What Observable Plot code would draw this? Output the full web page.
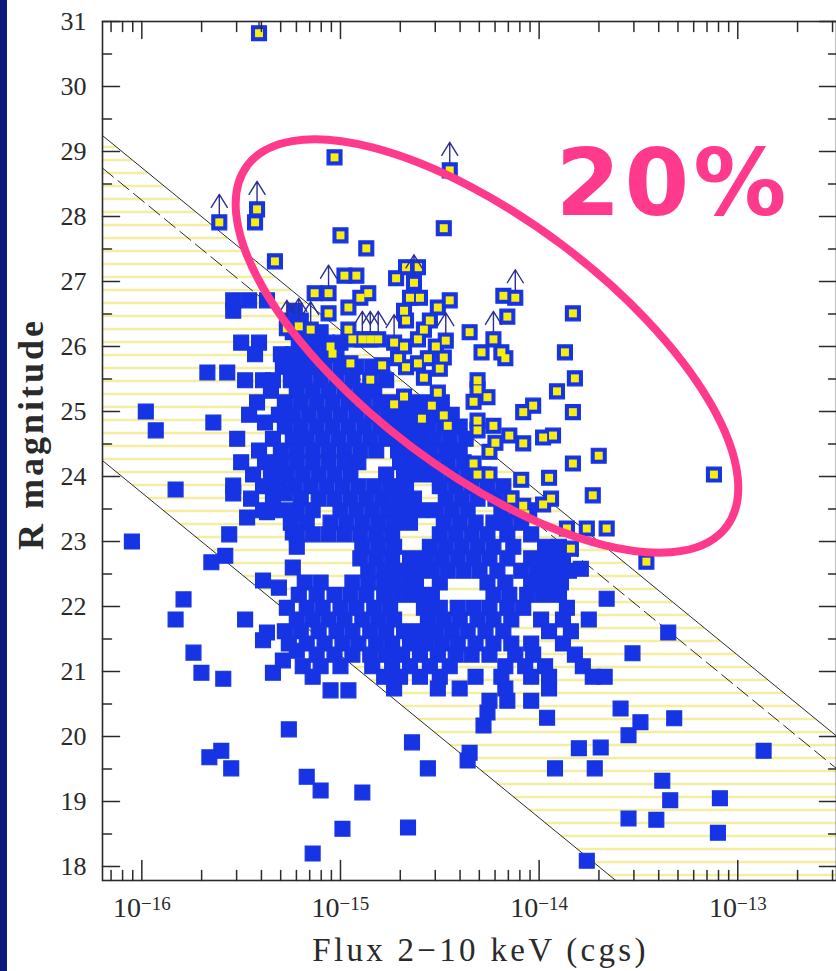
<!DOCTYPE html>
<html>
<head>
<meta charset="utf-8">
<script src="https://cdn.jsdelivr.net/npm/d3@7"></script>
<script src="https://cdn.jsdelivr.net/npm/@observablehq/plot@0.6"></script>
<style>
  html, body { margin: 0; padding: 0; background: #ffffff; }
  #chart { width: 836px; height: 971px; overflow: hidden; }
</style>
</head>
<body>
<div id="chart"></div>
<script>
// R magnitude versus 2–10 keV flux of hard X-ray sources.
// Fluxes are stored as log10(F / erg cm^-2 s^-1).

// Sources with an optical counterpart: rows of equal R, then log flux values.
const detectedRows = [
  [26.71, [-15.54, -15.46, -15.37]],
  [26.55, [-15.54, -15.23]],
  [26.40, [-15.26, -15.20]],
  [26.22, [-15.24, -15.18, -15.10]],
  [26.06, [-15.50, -15.41, -15.21, -15.14, -15.07, -15.00]],
  [25.88, [-15.43, -15.30, -15.24, -15.17, -15.10, -15.02]],
  [25.69, [-15.29, -15.22, -15.15, -15.08, -15.00, -14.92, -14.84]],
  [25.60, [-15.67, -15.57]],
  [25.48, [-15.48, -15.39, -15.34, -15.25, -15.18, -15.10, -15.02, -14.94, -14.77]],
  [25.32, [-15.35, -15.22, -15.14, -15.06, -14.98, -14.90, -14.83]],
  [25.14, [-15.42, -15.28, -15.20, -15.12, -15.04, -14.96, -14.88, -14.80, -14.72, -14.65, -14.57, -14.49]],
  [24.95, [-15.46, -15.31, -15.24, -15.16, -15.08, -15.00, -14.92, -14.84, -14.76, -14.68, -14.60, -14.52, -14.44]],
  [24.83, [-15.64, -15.38]],
  [24.77, [-15.28, -15.20, -15.12, -15.04, -14.96, -14.88, -14.80, -14.72, -14.64, -14.56, -14.48, -14.40]],
  [24.58, [-15.52, -15.34, -15.24, -15.17, -15.09, -15.01, -14.93, -14.85, -14.77, -14.69, -14.61, -14.53, -14.45, -14.37]],
  [24.40, [-15.41, -15.30, -15.22, -15.14, -15.06, -14.98, -14.90, -14.82, -14.71, -14.63, -14.55, -14.47, -14.40]],
  [24.22, [-15.50, -15.38, -15.30, -15.22, -15.14, -15.06, -14.98, -14.91, -14.70, -14.62, -14.54, -14.46, -14.38]],
  [24.03, [-15.44, -15.35, -15.27, -15.19, -15.11, -15.03, -14.95, -14.77, -14.68, -14.60, -14.52, -14.44, -14.36, -14.28]],
  [23.85, [-15.39, -15.31, -15.23, -15.15, -15.07, -14.99, -14.91, -14.83, -14.75, -14.67, -14.50, -14.42, -14.34, -14.26, -14.18]],
  [23.66, [-15.45, -15.34, -15.20, -15.11, -15.03, -14.95, -14.87, -14.79, -14.71, -14.63, -14.47, -14.39, -14.31, -14.22, -14.14]],
  [23.48, [-15.39, -15.30, -15.22, -15.14, -15.00, -14.92, -14.84, -14.76, -14.68, -14.60, -14.52, -14.44, -14.36, -14.19, -14.11, -14.05]],
  [23.29, [-15.25, -15.17, -15.05, -14.97, -14.89, -14.81, -14.73, -14.65, -14.48, -14.40, -14.32, -14.23, -14.17, -14.09]],
  [23.11, [-15.22, -15.14, -15.06, -14.98, -14.90, -14.82, -14.74, -14.50, -14.42, -14.34, -14.26, -14.16, -14.04]],
  [22.92, [-15.22, -14.89, -14.81, -14.73, -14.55, -14.47, -14.39, -14.31, -14.23, -14.13, -13.97, -13.90]],
  [22.74, [-14.90, -14.82, -14.74, -14.65, -14.57, -14.49, -14.41, -14.33, -14.25, -14.16, -14.04, -13.96, -13.88]],
  [22.55, [-14.86, -14.78, -14.70, -14.62, -14.54, -14.46, -14.38, -14.30, -14.21, -14.09, -14.01, -13.93, -13.85]],
  [22.37, [-15.18, -15.10, -14.94, -14.86, -14.78, -14.70, -14.62, -14.50, -14.26, -14.17, -14.04, -13.96, -13.89]],
  [22.18, [-15.21, -15.12, -15.03, -14.95, -14.87, -14.78, -14.70, -14.62, -14.54, -14.23, -14.15, -14.06, -13.98, -13.90]],
  [21.98, [-15.17, -15.09, -15.00, -14.92, -14.83, -14.75, -14.58, -14.50, -14.41, -14.33, -14.25, -14.16, -14.08, -13.86]],
  [21.80, [-15.22, -15.14, -15.06, -14.98, -14.89, -14.81, -14.73, -14.56, -14.48, -14.40, -14.31, -14.23, -14.14, -13.99, -13.88, -13.75]],
  [21.62, [-15.28, -15.20, -15.11, -15.02, -14.94, -14.85, -14.77, -14.68, -14.60, -14.52, -14.44, -14.36, -14.27, -14.18, -13.95, -13.84]],
  [21.43, [-15.26, -15.17, -15.08, -14.99, -14.91, -14.82, -14.74, -14.65, -14.57, -14.49, -14.41, -14.32, -14.23, -14.14, -14.04, -13.88]],
  [21.26, [-15.12, -15.03, -14.94, -14.85, -14.77, -14.69, -14.60, -14.51, -14.42, -14.34, -14.25, -14.12, -14.03, -13.82]],
  [21.08, [-15.19, -15.10, -15.00, -14.84, -14.74, -14.65, -14.55, -14.45, -14.17, -14.07, -13.97, -13.78]],
  [20.92, [-15.14, -14.78, -14.70, -14.60, -14.50, -14.32, -14.19, -14.04, -13.95, -13.73, -13.67]],
  [20.74, [-14.73, -14.51, -14.40, -14.17, -13.95]],
  [20.55, [-14.25, -14.16, -14.04]]
];

// Scattered sources with an optical counterpart: [log flux, R].
const detectedScattered = [
  [-16.05, 23.00], [-15.98, 25.00], [-15.93, 24.71], [-15.83, 23.80], [-15.79, 22.11],
  [-15.83, 21.80], [-15.74, 21.29], [-15.70, 20.98], [-15.59, 20.89], [-15.48, 21.80],
  [-15.65, 22.68], [-15.58, 22.78], [-15.56, 23.11], [-15.66, 19.68], [-15.60, 19.78],
  [-15.55, 19.51], [-15.26, 20.11], [-15.39, 22.40], [-15.31, 22.29], [-15.37, 21.60],
  [-15.39, 21.48], [-15.34, 20.98], [-15.29, 21.17], [-15.24, 22.60], [-15.27, 21.98],
  [-15.22, 21.32], [-15.24, 23.14], [-15.47, 23.37], [-15.37, 23.45], [-15.32, 23.83],
  [-15.28, 23.74], [-15.24, 23.43], [-15.54, 23.86], [-15.54, 23.74], [-15.17, 19.38],
  [-15.10, 19.17], [-14.99, 18.58], [-15.14, 18.20], [-14.89, 19.14], [-14.66, 18.60],
  [-15.05, 20.71], [-14.96, 20.71], [-14.64, 19.91], [-14.56, 19.51], [-14.36, 19.63],
  [-14.35, 19.75], [-14.26, 20.37], [-14.28, 20.17], [-13.92, 19.51], [-13.76, 18.09],
  [-13.96, 20.29], [-13.80, 19.82], [-13.69, 19.83], [-13.72, 19.51], [-13.55, 18.74],
  [-13.41, 18.72], [-13.38, 19.32], [-13.34, 19.02], [-13.09, 19.05], [-13.10, 18.52],
  [-12.87, 19.78], [-13.59, 20.43], [-13.55, 20.02], [-13.49, 20.22], [-13.32, 20.28],
  [-13.53, 21.28], [-13.66, 22.12], [-13.35, 21.60], [-13.79, 22.58]
];

// Optically faint sources: [log flux, R, 1 if R is a lower limit].
const faint = [
  [-15.41, 30.82, 1], [-15.03, 28.91, 0], [-14.45, 28.71, 1], [-15.61, 27.91, 1], [-15.43, 27.91, 0],
  [-15.42, 28.11, 1], [-15.33, 27.31, 0], [-15.00, 27.71, 0], [-14.87, 27.51, 0], [-14.48, 27.82, 0],
  [-14.92, 27.09, 0], [-14.98, 27.09, 0], [-15.13, 26.82, 0], [-15.06, 26.82, 1], [-15.06, 26.51, 0],
  [-14.96, 26.60, 0], [-14.90, 26.75, 0], [-14.86, 26.82, 0], [-15.27, 26.28, 1], [-15.21, 26.31, 1],
  [-15.15, 26.26, 1], [-14.96, 26.26, 0], [-14.94, 26.11, 0], [-14.89, 26.11, 1], [-14.85, 26.11, 1],
  [-14.81, 26.11, 1], [-15.05, 26.00, 0], [-15.04, 25.89, 0], [-14.95, 25.74, 0], [-14.79, 25.71, 0],
  [-14.85, 25.49, 0], [-14.68, 25.23, 0], [-14.73, 25.11, 0], [-14.67, 27.22, 0], [-14.61, 27.22, 0],
  [-14.72, 27.05, 0], [-14.63, 26.98, 1], [-14.65, 26.75, 0], [-14.60, 26.75, 0], [-14.68, 26.55, 0],
  [-14.51, 26.60, 0], [-14.45, 26.71, 0], [-14.55, 26.40, 0], [-14.67, 26.40, 0], [-14.58, 26.26, 0],
  [-14.61, 26.11, 0], [-14.73, 26.06, 1], [-14.68, 26.00, 0], [-14.52, 26.00, 0], [-14.47, 26.09, 1],
  [-14.71, 25.82, 0], [-14.67, 25.68, 0], [-14.61, 25.74, 0], [-14.56, 25.82, 0], [-14.48, 25.83, 0],
  [-14.50, 25.66, 0], [-14.58, 25.52, 0], [-14.51, 25.29, 0], [-14.54, 25.09, 0], [-14.59, 24.89, 0],
  [-14.48, 24.94, 0], [-14.46, 24.78, 0], [-14.35, 26.22, 0], [-14.23, 26.11, 1], [-14.29, 25.91, 0],
  [-14.19, 25.91, 0], [-14.17, 25.82, 0], [-14.18, 26.78, 0], [-14.12, 26.75, 1], [-14.16, 26.46, 0],
  [-13.83, 26.51, 0], [-13.87, 25.91, 0], [-13.82, 25.51, 0], [-13.91, 25.31, 0], [-14.03, 25.09, 0],
  [-14.08, 24.99, 0], [-13.83, 24.99, 0], [-13.93, 24.63, 0], [-13.98, 24.60, 0], [-13.70, 24.32, 0],
  [-13.83, 24.20, 0], [-14.08, 24.51, 0], [-14.15, 24.63, 0], [-14.22, 24.52, 0], [-14.25, 24.38, 0],
  [-14.31, 25.48, 0], [-14.31, 25.34, 0], [-14.33, 25.15, 0], [-14.26, 25.22, 0], [-14.23, 24.78, 0],
  [-14.31, 24.86, 0], [-14.31, 24.71, 0], [-14.33, 24.20, 0], [-14.31, 24.03, 0], [-14.25, 24.03, 0],
  [-14.09, 23.95, 0], [-13.95, 23.98, 0], [-14.14, 23.66, 0], [-14.08, 23.55, 0], [-14.07, 23.42, 0],
  [-13.98, 23.57, 0], [-13.94, 23.66, 0], [-13.73, 23.71, 0], [-13.86, 23.20, 0], [-13.76, 23.20, 0],
  [-13.66, 23.20, 0], [-13.84, 22.89, 0], [-13.46, 22.69, 0], [-13.12, 24.03, 0]
];

// Constant X-ray to optical flux ratio: log(fX/fR) = log fX + 5.5 + R/2.5
const xoBand = [-1, 1];      // edges of the hatched band
const xoDashed = 0.8;        // dashed reference line

// Axis ticks
const yTicks = [18, 19, 20, 21, 22, 23, 24, 25, 26, 27, 28, 29, 30, 31];
const yMinor = [18.5, 19.5, 20.5, 21.5, 22.5, 23.5, 24.5, 25.5, 26.5, 27.5, 28.5, 29.5, 30.5];
const xDecades = [1e-16, 1e-15, 1e-14, 1e-13];
const xMinor = [7e-17, 8e-17, 9e-17]
  .concat([1e-16, 1e-15, 1e-14].flatMap(d => [2, 3, 4, 5, 6, 7, 8, 9].map(k => k * d)))
  .concat([2e-13, 3e-13]);

// Highlighted group of optically faint sources
const ringCentre = {lgF: -14.26, R: 26.0};
const ringLabel = "20%";

const blue = "#1634e4";
const yellow = "#f8ee0c";
const pink = "#ff3a8c";
const ink = "#2a2a2a";
const lgDomain = [-16.198, -12.503];

const detected = detectedRows
  .flatMap(([R, fluxes]) => fluxes.map(f => [f, R]))
  .concat(detectedScattered);
const limits = faint.filter(d => d[2] === 1);

const stripeR = d3.range(17.87, 31.1, 0.2);
const xoLine = (q) => lgDomain.map(f => ({f, R: 2.5 * (q - f - 5.5)}));

const tickShape = (dx, dy) => ({
  draw(ctx, l) { ctx.moveTo(0, 0); ctx.lineTo(dx * l, dy * l); }
});
const upArrow = {
  draw(ctx, l) {
    ctx.moveTo(0, -7); ctx.lineTo(0, -l);
    ctx.moveTo(-8, -l + 13); ctx.lineTo(0, -l); ctx.lineTo(8, -l + 13);
  }
};

function ring(index, scales) {
  const cx = scales.x(10 ** ringCentre.lgF);
  const cy = scales.y(ringCentre.R);
  const g = d3.create("svg:g");
  g.append("ellipse")
    .attr("cx", cx).attr("cy", cy)
    .attr("rx", 300).attr("ry", 126)
    .attr("transform", `rotate(37 ${cx} ${cy})`)
    .attr("fill", "none")
    .attr("stroke", pink)
    .attr("stroke-width", 8);
  return g.node();
}

const plot = Plot.plot({
  width: 836,
  height: 971,
  marginLeft: 102,
  marginRight: 0,
  marginTop: 21,
  marginBottom: 91,
  style: {
    background: "linear-gradient(to right, #0c1a7d 0px, #0c1a7d 7px, #ffffff 7px)",
    fontFamily: "Liberation Serif",
    color: ink
  },
  x: {type: "log", domain: lgDomain.map(v => 10 ** v)},
  y: {domain: [17.785, 31]},
  marks: [
    // hatched band between the two X/O limits
    Plot.ruleY(stripeR, {
      y: d => d,
      x1: d => 10 ** (xoBand[0] - 5.5 - d / 2.5),
      x2: d => 10 ** (xoBand[1] - 5.5 - d / 2.5),
      stroke: "#f3eea0",
      strokeWidth: 2.6,
      clip: true
    }),
    ...xoBand.map(q => Plot.line(xoLine(q), {
      x: d => 10 ** d.f, y: "R", stroke: ink, strokeWidth: 1, clip: true
    })),
    Plot.line(xoLine(xoDashed), {
      x: d => 10 ** d.f, y: "R", stroke: ink, strokeWidth: 1,
      strokeDasharray: "14,6", clip: true
    }),

    // sources
    Plot.dot(detected, {
      x: d => 10 ** d[0], y: d => d[1], symbol: "square", r: 8.4,
      fill: blue, stroke: blue, strokeWidth: 1.2, clip: true
    }),
    Plot.dot(faint, {
      x: d => 10 ** d[0], y: d => d[1], symbol: "square", r: 8.4,
      fill: blue, stroke: blue, strokeWidth: 1.2, clip: true
    }),
    Plot.dot(faint, {
      x: d => 10 ** d[0], y: d => d[1], symbol: "square", r: 4.5, fill: yellow, clip: true
    }),
    Plot.vector(limits, {
      x: d => 10 ** d[0], y: d => d[1], length: 28, anchor: "start",
      shape: upArrow, stroke: "#2b2e96", strokeWidth: 1.4, clip: true
    }),

    // frame and inward ticks
    Plot.frame({stroke: ink, strokeWidth: 1.6}),
    Plot.vector(yTicks, {y: d => d, frameAnchor: "left", length: 17, anchor: "start", shape: tickShape(1, 0), stroke: ink, strokeWidth: 1.5}),
    Plot.vector(yMinor, {y: d => d, frameAnchor: "left", length: 9, anchor: "start", shape: tickShape(1, 0), stroke: ink, strokeWidth: 1.5}),
    Plot.vector(yTicks, {y: d => d, frameAnchor: "right", length: 17, anchor: "start", shape: tickShape(-1, 0), stroke: ink, strokeWidth: 1.5}),
    Plot.vector(yMinor, {y: d => d, frameAnchor: "right", length: 8, anchor: "start", shape: tickShape(-1, 0), stroke: ink, strokeWidth: 1.5}),
    Plot.vector(xDecades, {x: d => d, frameAnchor: "bottom", length: 20, anchor: "start", shape: tickShape(0, -1), stroke: ink, strokeWidth: 1.5}),
    Plot.vector(xMinor, {x: d => d, frameAnchor: "bottom", length: 10, anchor: "start", shape: tickShape(0, -1), stroke: ink, strokeWidth: 1.5}),
    Plot.vector(xDecades, {x: d => d, frameAnchor: "top", length: 17, anchor: "start", shape: tickShape(0, 1), stroke: ink, strokeWidth: 1.5}),
    Plot.vector(xMinor, {x: d => d, frameAnchor: "top", length: 10, anchor: "start", shape: tickShape(0, 1), stroke: ink, strokeWidth: 1.5}),

    // tick labels
    Plot.axisY(yTicks, {
      anchor: "left", tickSize: 0, tickPadding: 16, fontSize: 26,
      fontFamily: "Liberation Serif", fill: ink, label: null, tickFormat: d => String(d)
    }),
    Plot.axisX(xDecades, {
      anchor: "bottom", tickSize: 0, tickPadding: 17, fontSize: 28,
      fontFamily: "Liberation Serif", fill: ink, label: null,
      tickFormat: d => `10^${Math.round(Math.log10(d))}`
    }),

    // axis titles
    Plot.text(["R magnitude"], {
      text: d => d, frameAnchor: "left", dx: -71, dy: -17, rotate: -90,
      textAnchor: "middle", lineAnchor: "middle", fontSize: 36,
      fontWeight: "bold", fontFamily: "Liberation Serif", fill: ink
    }),
    Plot.text(["Flux 2\u221210 keV (cgs)"], {
      text: d => d, frameAnchor: "bottom", dx: 11, dy: 80,
      textAnchor: "middle", lineAnchor: "bottom", fontSize: 33,
      fontFamily: "Liberation Serif", fill: ink
    }),

    // highlighted group
    ring,
    Plot.text([ringLabel], {
      text: d => d, x: 10 ** -12.735, y: 28.02, textAnchor: "end", lineAnchor: "bottom",
      fontSize: 93, fontWeight: "bold", fontFamily: "DejaVu Sans", fill: pink
    })
  ]
});

// superscript exponents on the flux axis
d3.select(plot).selectAll('g[aria-label="x-axis tick label"] text').each(function () {
  const [base, exp] = this.textContent.split("^");
  const t = d3.select(this);
  t.text(base);
  t.append("tspan").attr("dy", "-0.38em").attr("font-size", "19px").text(exp.replace("-", "\u2212"));
});
// letter spacing on the titles
d3.select(plot).selectAll("text").each(function () {
  if (this.textContent === "R magnitude") this.style.letterSpacing = "3px";
  if (this.textContent === "Flux 2\u221210 keV (cgs)") this.style.letterSpacing = "3.3px";
  if (this.textContent === ringLabel) this.style.letterSpacing = "4px";
});

document.getElementById("chart").append(plot);
</script>
</body>
</html>
